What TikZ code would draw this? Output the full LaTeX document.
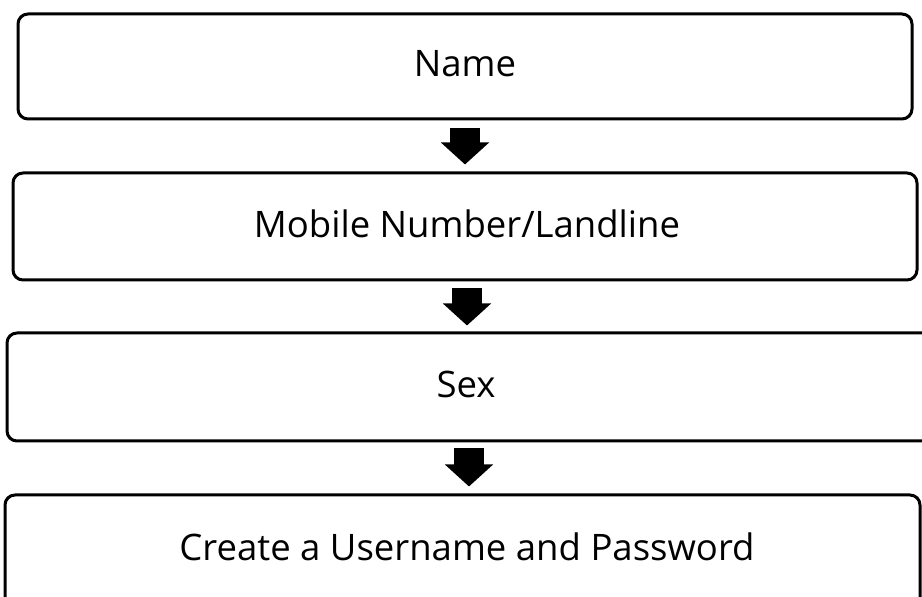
\documentclass[tikz,border=0pt]{standalone}
\usepackage{fontspec}
\setmainfont{Open Sans}
\usetikzlibrary{arrows.meta}
\begin{document}
\begin{tikzpicture}[x=1pt,y=1pt,
  box/.style={draw=black, line width=3pt, rounded corners=10pt, inner sep=0pt, fill=white},
  lbl/.style={anchor=base, inner sep=0pt, font=\fontsize{36.5}{44}\selectfont},
  blockarrow/.style={line width=30pt, -{Triangle[width=47pt,length=22pt]}, black}]
\useasboundingbox (0,0) rectangle (922,597);
\clip (0,0) rectangle (922,597);
\fill[white] (0,0) rectangle (922,597);
\node[box, minimum width=894pt, minimum height=105pt] (b1) at (465,530.5) {};
\node[box, minimum width=904pt, minimum height=107pt] (b2) at (465,370.5) {};
\node[box, minimum width=933pt, minimum height=108pt] (b3) at (473.5,210) {};
\node[box, minimum width=915pt, minimum height=120pt] (b4) at (462.5,42) {};
\node[lbl] (t1) at (465,520) {Name};
\node[lbl] (t2) at (467,359) {Mobile Number/Landline};
\node[lbl] (t3) at (466,199) {Sex};
\node[lbl] (t4) at (467,36) {Create a Username and Password};
\draw[blockarrow] ([yshift=-8pt]b1.south) -- ([yshift=7pt]b2.north);
\draw[blockarrow] ([xshift=2pt,yshift=-7pt]b2.south) -- ([xshift=2pt,yshift=6pt]b2.south |- b3.north);
\draw[blockarrow] ([xshift=-4.5pt,yshift=-6pt]b3.south) -- ([xshift=-4.5pt,yshift=7pt]b3.south |- b4.north);
\end{tikzpicture}
\end{document}
